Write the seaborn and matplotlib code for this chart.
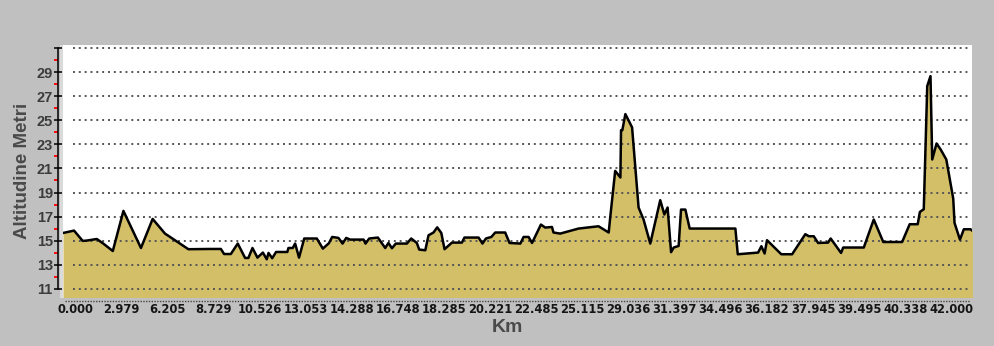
import numpy as np
import pandas as pd
import seaborn as sns
import matplotlib.pyplot as plt
from matplotlib.ticker import FixedLocator
from matplotlib.lines import Line2D
from matplotlib.patches import Rectangle

# ---- data ----
dist_km = [0.00, 0.51, 0.91, 1.10, 1.56, 1.86, 2.30, 2.79, 3.60, 4.14, 4.71, 5.17, 5.79,
           6.79, 7.29, 7.44, 7.75, 8.07, 8.41, 8.56, 8.75, 8.98, 9.23, 9.41, 9.49, 9.66,
           9.84, 10.36, 10.41, 10.61, 10.72, 10.90, 11.14, 11.72, 12.00, 12.28, 12.43,
           12.72, 12.91, 13.08, 13.26, 13.88, 13.97, 14.14, 14.54, 14.88, 15.03, 15.19,
           15.37, 15.88, 16.08, 16.34, 16.45, 16.73, 16.88, 17.11, 17.28, 17.47, 17.62,
           17.96, 18.42, 18.54, 19.19, 19.37, 19.53, 19.78, 19.96, 20.42, 20.62, 21.12,
           21.27, 21.50, 21.66, 22.07, 22.27, 22.58, 22.65, 22.96, 23.81, 24.73, 25.20,
           25.27, 25.50, 25.74, 25.77, 25.83, 25.97, 26.28, 26.58, 26.81, 27.12, 27.58,
           27.77, 27.92, 28.08, 28.20, 28.43, 28.54, 28.74, 28.94, 31.05, 31.16, 32.10,
           32.25, 32.40, 32.51, 33.17, 33.67, 34.28, 34.44, 34.67, 34.87, 35.33, 35.45,
           35.93, 36.03, 36.98, 37.44, 37.88, 38.75, 39.10, 39.47, 39.57, 39.75, 39.91,
           40.06, 40.14, 40.34, 40.53, 40.79, 41.11, 41.17, 41.42, 41.60, 41.91, 42.00]
altitude_m = [15.63, 15.83, 14.97, 15.00, 15.13, 14.75, 14.13, 17.47, 14.38, 16.80, 15.58,
              15.03, 14.28, 14.30, 14.30, 13.88, 13.88, 14.75, 13.55, 13.55, 14.38, 13.58,
              14.00, 13.44, 13.97, 13.53, 14.05, 14.05, 14.38, 14.38, 14.75, 13.58, 15.17,
              15.17, 14.33, 14.78, 15.30, 15.22, 14.75, 15.22, 15.08, 15.08, 14.75, 15.17,
              15.25, 14.38, 14.80, 14.36, 14.75, 14.75, 15.17, 14.80, 14.25, 14.19, 15.44,
              15.67, 16.10, 15.63, 14.28, 14.83, 14.83, 15.25, 15.25, 14.75, 15.17, 15.30,
              15.67, 15.67, 14.80, 14.75, 15.30, 15.30, 14.80, 16.33, 16.08, 16.13, 15.67,
              15.58, 16.00, 16.19, 15.67, 16.92, 20.80, 20.25, 24.19, 24.19, 25.53, 24.42,
              17.75, 16.75, 14.75, 18.36, 17.17, 17.75, 14.03, 14.42, 14.55, 17.58, 17.58,
              16.00, 16.00, 13.86, 14.00, 14.53, 13.92, 15.03, 13.86, 13.86, 15.53, 15.36,
              15.36, 14.80, 14.83, 15.17, 13.97, 14.42, 14.42, 16.75, 14.88, 14.88, 16.36,
              16.36, 17.38, 17.61, 27.86, 28.69, 21.75, 23.08, 22.58, 21.75, 18.50, 16.47,
              15.08, 15.94, 15.94, 15.80]
x_tick_labels = ["0.000", "2.979", "6.205", "8.729", "10.526", "13.053", "14.288", "16.748",
                 "18.285", "20.221", "22.485", "25.115", "29.036", "31.397", "34.496",
                 "36.182", "37.945", "39.495", "40.338", "42.000"]
y_major = [11, 13, 15, 17, 19, 21, 23, 25, 27, 29, 31]
y_labels = ["11", "13", "15", "17", "19", "21", "23", "25", "27", "29", ""]
y_minor = [12, 14, 16, 18, 20, 22, 24, 26, 28, 30]

# ---- style ----
sns.set_style("white")
plt.rcParams['font.family'] = ['Liberation Sans', 'DejaVu Sans']

W, H = 995, 346
fig = plt.figure(figsize=(W / 100, H / 100), dpi=100, facecolor='#c0c0c0')
ax = fig.add_axes([63 / W, 1 - 297.5 / H, 909.5 / W, 252.5 / H])
ax.set_facecolor('white')

ymin, ymax = 10.26, 31.28
df = pd.DataFrame({'km': dist_km, 'alt': altitude_m})

ax.fill_between(df['km'], df['alt'], ymin, color='#d4bf69', lw=0, zorder=1)
ax.hlines(y_major, 0.46, 41.86, colors='#555555', linestyles=(0, (1, 2)), lw=1.4, zorder=2)
sns.lineplot(data=df, x='km', y='alt', ax=ax, color='black', lw=1.8, zorder=3,
             sort=False, estimator=None)

ax.set_xlim(0, 42)
ax.set_ylim(ymin, ymax)
ax.set_xlabel('')
ax.set_ylabel('')

for s in ['top', 'right', 'bottom']:
    ax.spines[s].set_visible(False)
ax.spines['left'].set_position(('outward', 3.3))
ax.spines['left'].set_bounds(11, 31)
ax.spines['left'].set_color('black')
ax.spines['left'].set_linewidth(1.1)

ax.yaxis.set_major_locator(FixedLocator(y_major))
ax.set_yticklabels(y_labels)
ax.yaxis.set_minor_locator(FixedLocator(y_minor))
ax.tick_params(axis='y', which='major', direction='inout', length=6, width=1.1,
               color='black', labelsize=10.5, labelcolor='#3c3c3c', pad=1, left=True)
ax.tick_params(axis='y', which='minor', direction='out', length=3, width=1.3,
               color='#ff0000', left=True)
for t in ax.get_yticklabels():
    t.set_fontweight('bold')

step = 46.1 * 42 / 909
xpos = [0.554 + step * i for i in range(len(x_tick_labels))]
ax.set_xticks(xpos)
ax.set_xticklabels(x_tick_labels)
ax.tick_params(axis='x', length=0, pad=4, labelsize=8.3, labelcolor='#151515')
for t in ax.get_xticklabels():
    t.set_fontweight('bold')
    t.set_family('DejaVu Sans')

# decorations: light border strip and dotted bottom line
fig.add_artist(Rectangle((59.8 / W, 1 - 298 / H), 3.3 / W, 253 / H,
                         transform=fig.transFigure, color='#dadada', lw=0, zorder=0))
fig.add_artist(Line2D([65 / W, 970 / W], [1 - 300.5 / H] * 2, transform=fig.transFigure,
                      color='#444444', lw=1, linestyle=(0, (1, 1))))

fig.text(23 / W, 1 - 171 / H, 'Altitudine Metri', rotation=90, ha='center', va='center',
         fontsize=13.5, fontweight='bold', color='#4a4a4a')
fig.text(507 / W, 1 - 328 / H, 'Km', ha='center', va='center',
         fontsize=14, fontweight='bold', color='#4a4a4a')

fig.savefig('out.png', dpi=100, facecolor=fig.get_facecolor())
